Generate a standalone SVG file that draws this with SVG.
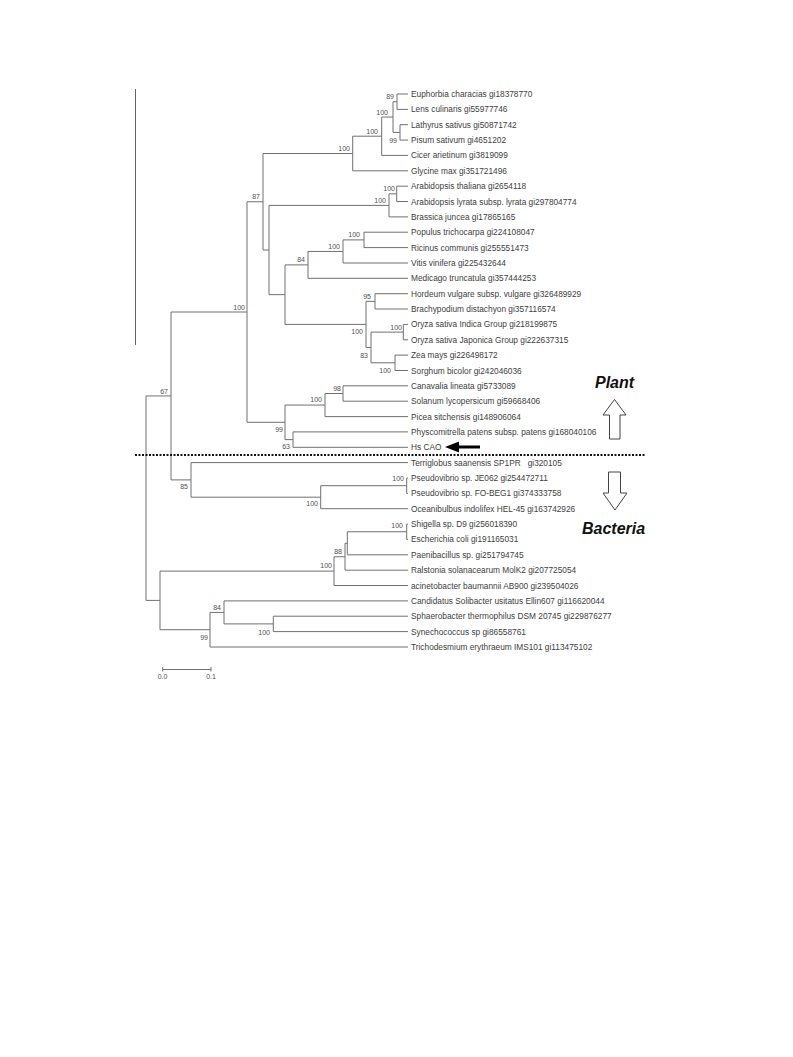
<svg xmlns="http://www.w3.org/2000/svg" width="793" height="1057" viewBox="0 0 793 1057">
<style>
.br{fill:none;stroke:#707070;stroke-width:1}
.lf{font-family:"Liberation Sans",Arial,sans-serif;font-size:8.3px;fill:#404040}
.bs{font-family:"Liberation Sans",Arial,sans-serif;font-size:7px;fill:#505050;text-anchor:end}
.big{font-family:"Liberation Sans",Arial,sans-serif;font-size:16px;font-weight:bold;font-style:italic;fill:#111}
.hol{fill:#fff;stroke:#444;stroke-width:1}
</style>
<rect width="793" height="1057" fill="#fff"/>
<line x1="135.5" y1="89" x2="135.5" y2="345" stroke="#666" stroke-width="1"/>
<g id="connectors">
<path class="br" d="M408 94 H397 V109.4 H408"/>
<path class="br" d="M408 124.7 H400 V140.1 H408"/>
<path class="br" d="M397 101.7 H393 V132.4 H400"/>
<path class="br" d="M393 117.05 H381.7 V155.4 H408"/>
<path class="br" d="M381.7 136.2 H352.7 V170.8 H408"/>
<path class="br" d="M408 186.2 H396.7 V201.5 H408"/>
<path class="br" d="M396.7 193.85 H389 V216.9 H408"/>
<path class="br" d="M408 232.2 H364 V247.6 H408"/>
<path class="br" d="M364 239.9 H343 V263 H408"/>
<path class="br" d="M343 251.45 H308 V278.3 H408"/>
<path class="br" d="M408 293.7 H375 V309 H408"/>
<path class="br" d="M408 324.4 H403.3 V339.8 H408"/>
<path class="br" d="M408 355.1 H395 V370.5 H408"/>
<path class="br" d="M403.3 332.1 H371 V362.8 H395"/>
<path class="br" d="M375 301.35 H366 V347.45 H371"/>
<path class="br" d="M308 264.9 H285 V324.4 H366"/>
<path class="br" d="M389 205.4 H269 V294.65 H285"/>
<path class="br" d="M352.7 153.5 H263 V250 H269"/>
<path class="br" d="M408 385.8 H343 V401.2 H408"/>
<path class="br" d="M343 393.5 H325 V416.6 H408"/>
<path class="br" d="M408 431.9 H293 V447.3 H408"/>
<path class="br" d="M325 405.05 H285 V439.6 H293"/>
<path class="br" d="M263 201.75 H247 V422.3 H285"/>
<path class="br" d="M408 478 H406.7 V493.4 H408"/>
<path class="br" d="M406.7 485.7 H320.7 V508.7 H408"/>
<path class="br" d="M408 462.6 H191 V497.2 H320.7"/>
<path class="br" d="M247 312 H171 V479.9 H191"/>
<path class="br" d="M408 524.1 H406.7 V539.4 H408"/>
<path class="br" d="M406.7 531.75 H347.3 V554.8 H408"/>
<path class="br" d="M347.3 543.3 H345 V570.2 H408"/>
<path class="br" d="M345 556.75 H334 V585.5 H408"/>
<path class="br" d="M408 616.2 H273.3 V631.6 H408"/>
<path class="br" d="M408 600.9 H224 V623.9 H273.3"/>
<path class="br" d="M224 612.4 H210 V647 H408"/>
<path class="br" d="M334 571.1 H160 V629.7 H210"/>
<path class="br" d="M171 395.95 H146 V600.4 H160"/>
</g>
<g id="bootstrap">
<text class="bs" x="394" y="99">89</text>
<text class="bs" x="397" y="143">99</text>
<text class="bs" x="388" y="115">100</text>
<text class="bs" x="378" y="134">100</text>
<text class="bs" x="350" y="151">100</text>
<text class="bs" x="395" y="191">100</text>
<text class="bs" x="386" y="203">100</text>
<text class="bs" x="260" y="199">87</text>
<text class="bs" x="360" y="237">100</text>
<text class="bs" x="340" y="249">100</text>
<text class="bs" x="305" y="262">84</text>
<text class="bs" x="371" y="299">95</text>
<text class="bs" x="402" y="330">100</text>
<text class="bs" x="391" y="373">100</text>
<text class="bs" x="368" y="358">83</text>
<text class="bs" x="363" y="334">100</text>
<text class="bs" x="341" y="391">98</text>
<text class="bs" x="322" y="402">100</text>
<text class="bs" x="290" y="449">63</text>
<text class="bs" x="283" y="432">99</text>
<text class="bs" x="245" y="310">100</text>
<text class="bs" x="168" y="394">67</text>
<text class="bs" x="404" y="481">100</text>
<text class="bs" x="318" y="506">100</text>
<text class="bs" x="188" y="489">85</text>
<text class="bs" x="403" y="528">100</text>
<text class="bs" x="342" y="554">88</text>
<text class="bs" x="332" y="568">100</text>
<text class="bs" x="270" y="635">100</text>
<text class="bs" x="221" y="610">84</text>
<text class="bs" x="208" y="640">99</text>
</g>
<g id="leaf-euphorbia"><text class="lf" x="411" y="97">Euphorbia characias gi18378770</text></g>
<g id="leaf-lens"><text class="lf" x="411" y="112.4">Lens culinaris gi55977746</text></g>
<g id="leaf-lathyrus"><text class="lf" x="411" y="127.7">Lathyrus sativus gi50871742</text></g>
<g id="leaf-pisum"><text class="lf" x="411" y="143.1">Pisum sativum gi4651202</text></g>
<g id="leaf-cicer"><text class="lf" x="411" y="158.4">Cicer arietinum gi3819099</text></g>
<g id="leaf-glycine"><text class="lf" x="411" y="173.8">Glycine max gi351721496</text></g>
<g id="leaf-athaliana"><text class="lf" x="411" y="189.2">Arabidopsis thaliana gi2654118</text></g>
<g id="leaf-alyrata"><text class="lf" x="411" y="204.5">Arabidopsis lyrata subsp. lyrata gi297804774</text></g>
<g id="leaf-brassica"><text class="lf" x="411" y="219.9">Brassica juncea gi17865165</text></g>
<g id="leaf-populus"><text class="lf" x="411" y="235.2">Populus trichocarpa gi224108047</text></g>
<g id="leaf-ricinus"><text class="lf" x="411" y="250.6">Ricinus communis gi255551473</text></g>
<g id="leaf-vitis"><text class="lf" x="411" y="266">Vitis vinifera gi225432644</text></g>
<g id="leaf-medicago"><text class="lf" x="411" y="281.3">Medicago truncatula gi357444253</text></g>
<g id="leaf-hordeum"><text class="lf" x="411" y="296.7">Hordeum vulgare subsp. vulgare gi326489929</text></g>
<g id="leaf-brachypodium"><text class="lf" x="411" y="312">Brachypodium distachyon gi357116574</text></g>
<g id="leaf-oryza-indica"><text class="lf" x="411" y="327.4">Oryza sativa Indica Group gi218199875</text></g>
<g id="leaf-oryza-japonica"><text class="lf" x="411" y="342.8">Oryza sativa Japonica Group gi222637315</text></g>
<g id="leaf-zea"><text class="lf" x="411" y="358.1">Zea mays gi226498172</text></g>
<g id="leaf-sorghum"><text class="lf" x="411" y="373.5">Sorghum bicolor gi242046036</text></g>
<g id="leaf-canavalia"><text class="lf" x="411" y="388.8">Canavalia lineata gi5733089</text></g>
<g id="leaf-solanum"><text class="lf" x="411" y="404.2">Solanum lycopersicum gi59668406</text></g>
<g id="leaf-picea"><text class="lf" x="411" y="419.6">Picea sitchensis gi148906064</text></g>
<g id="leaf-physcomitrella"><text class="lf" x="411" y="434.9">Physcomitrella patens subsp. patens gi168040106</text></g>
<g id="leaf-hscao"><text class="lf" x="411" y="450.3">Hs CAO</text></g>
<g id="leaf-terriglobus"><text class="lf" x="411" y="465.6" xml:space="preserve">Terriglobus saanensis SP1PR   gi320105</text></g>
<g id="leaf-pseudovibrio-je062"><text class="lf" x="411" y="481">Pseudovibrio sp. JE062 gi254472711</text></g>
<g id="leaf-pseudovibrio-fo"><text class="lf" x="411" y="496.4">Pseudovibrio sp. FO-BEG1 gi374333758</text></g>
<g id="leaf-oceanibulbus"><text class="lf" x="411" y="511.7">Oceanibulbus indolifex HEL-45 gi163742926</text></g>
<g id="leaf-shigella"><text class="lf" x="411" y="527.1">Shigella sp. D9 gi256018390</text></g>
<g id="leaf-ecoli"><text class="lf" x="411" y="542.4">Escherichia coli gi191165031</text></g>
<g id="leaf-paenibacillus"><text class="lf" x="411" y="557.8">Paenibacillus sp. gi251794745</text></g>
<g id="leaf-ralstonia"><text class="lf" x="411" y="573.2">Ralstonia solanacearum MolK2  gi207725054</text></g>
<g id="leaf-acinetobacter"><text class="lf" x="411" y="588.5">acinetobacter baumannii AB900 gi239504026</text></g>
<g id="leaf-candidatus"><text class="lf" x="411" y="603.9">Candidatus Solibacter usitatus Ellin607 gi116620044</text></g>
<g id="leaf-sphaerobacter"><text class="lf" x="411" y="619.2">Sphaerobacter thermophilus DSM 20745 gi229876277</text></g>
<g id="leaf-synechococcus"><text class="lf" x="411" y="634.6">Synechococcus sp gi86558761</text></g>
<g id="leaf-trichodesmium"><text class="lf" x="411" y="650">Trichodesmium erythraeum IMS101 gi113475102</text></g>
<g id="divider"><line x1="135" y1="455" x2="645" y2="455" stroke="#111" stroke-width="2" stroke-dasharray="2 1.5"/></g>
<g id="plant">
<text class="big" x="595" y="387.5">Plant</text>
<polygon class="hol" points="614.5,399.5 626,415 620,415 620,439 609.5,439 609.5,415 603,415"/>
</g>
<g id="bacteria">
<polygon class="hol" points="608.5,472 620.5,472 620.5,493 627,493 615,510 603,493 608.5,493"/>
<text class="big" x="582" y="534">Bacteria</text>
</g>
<g id="hscao-arrow">
<line x1="480" y1="447" x2="456" y2="447" stroke="#000" stroke-width="3"/>
<polygon points="445,447 459,441.5 459,452.5" fill="#000"/>
</g>
<g id="scale">
<path class="br" d="M162.7 669.5 H211 M162.7 667 V671.5 M211 667 V671.5"/>
<text class="bs" x="162.5" y="679" style="text-anchor:middle">0.0</text>
<text class="bs" x="211" y="679" style="text-anchor:middle">0.1</text>
</g>
</svg>
